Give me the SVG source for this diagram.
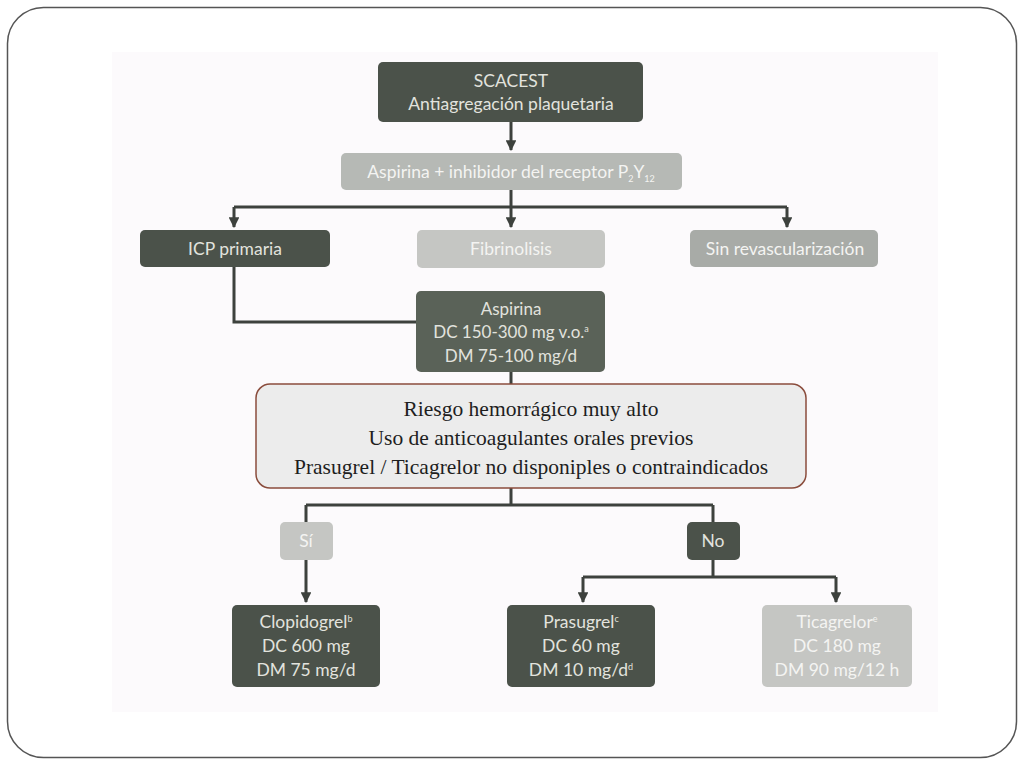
<svg xmlns="http://www.w3.org/2000/svg" width="1024" height="768" viewBox="0 0 1024 768">
<defs>
<marker id="ah" viewBox="0 0 10 10" refX="9" refY="5" markerWidth="3.6" markerHeight="3.6" orient="auto" markerUnits="strokeWidth">
<path d="M0,0 L10,5 L0,10 z" fill="#3d413d"/>
</marker>
<style>
.dk{fill:#4b524a}
.md{fill:#a8aba7}
.lt{fill:#c5c6c3}
.t{font-family:"Lato","Open Sans",sans-serif;font-size:17.5px;text-anchor:middle;fill:#e2e3de}
.tw{font-family:"Lato","Open Sans",sans-serif;font-size:17.5px;text-anchor:middle;fill:#f4f4f2}
.s{font-family:"Liberation Serif",serif;font-size:21.5px;text-anchor:middle;fill:#1e1e1e}
.c{fill:none;stroke:#3d413d;stroke-width:3}
.sup{font-size:9px}
</style>
</defs>
<rect x="0" y="0" width="1024" height="768" fill="#ffffff"/>
<rect x="7.5" y="7.5" width="1009" height="750" rx="36" fill="#ffffff" stroke="#555555" stroke-width="1.5"/>
<rect x="112" y="52" width="826" height="660" fill="#fcfafc"/>
<g id="connectors">
<path class="c" d="M511,122 V150" marker-end="url(#ah)"/>
<path class="c" d="M511,190 V207 M234,207 H787"/>
<path class="c" d="M234,207 V227" marker-end="url(#ah)"/>
<path class="c" d="M511,207 V227" marker-end="url(#ah)"/>
<path class="c" d="M787,207 V227" marker-end="url(#ah)"/>
<path class="c" d="M234,267 V322 H417"/>
<path class="c" d="M511,372 V384"/>
<path class="c" d="M511,488 V505 M306,505 H713 M306,505 V522 M713,505 V522"/>
<path class="c" d="M306,560 V602" marker-end="url(#ah)"/>
<path class="c" d="M713,560 V577 M583,577 H836"/>
<path class="c" d="M583,577 V602" marker-end="url(#ah)"/>
<path class="c" d="M836,577 V602" marker-end="url(#ah)"/>
</g>
<g id="scacest">
<rect class="dk" x="378" y="62" width="265" height="60" rx="5"/>
<text class="t" x="511" y="87">SCACEST</text>
<text class="t" x="511" y="110">Antiagregación plaquetaria</text>
</g>
<g id="aspirina-inhibidor">
<rect fill="#b6b9b5" x="341" y="153" width="341" height="37" rx="5"/>
<text class="tw" x="511" y="178">Aspirina + inhibidor del receptor P<tspan class="sup" dy="4">2</tspan><tspan dy="-4">Y</tspan><tspan class="sup" dy="4">12</tspan></text>
</g>
<g id="icp">
<rect class="dk" x="140" y="230" width="190" height="37" rx="5"/>
<text class="t" x="235" y="255">ICP primaria</text>
</g>
<g id="fibrinolisis">
<rect class="lt" x="417" y="230" width="188" height="38" rx="5"/>
<text class="tw" x="511" y="255">Fibrinolisis</text>
</g>
<g id="sin-revasc">
<rect class="md" x="690" y="230" width="188" height="37" rx="5"/>
<text class="tw" x="785" y="255">Sin revascularización</text>
</g>
<g id="aspirina">
<rect fill="#5a6258" x="416" y="291" width="189" height="81" rx="5"/>
<text class="t" x="511" y="315" style="font-size:17px">Aspirina</text>
<text class="t" x="511" y="338" style="font-size:17px">DC 150-300 mg v.o.<tspan class="sup" dy="-6">a</tspan></text>
<text class="t" x="511" y="362" style="font-size:17px">DM 75-100 mg/d</text>
</g>
<g id="riesgo">
<rect x="256" y="384" width="550" height="104" rx="14" fill="#ececec" stroke="#8a4c3c" stroke-width="1.5"/>
<text class="s" x="531" y="416">Riesgo hemorrágico muy alto</text>
<text class="s" x="531" y="445">Uso de anticoagulantes orales previos</text>
<text class="s" x="531" y="474">Prasugrel / Ticagrelor no disponiples o contraindicados</text>
</g>
<g id="si">
<rect class="lt" x="280" y="522" width="53" height="38" rx="5"/>
<text class="tw" x="306" y="547">Sí</text>
</g>
<g id="no">
<rect class="dk" x="687" y="522" width="53" height="38" rx="5"/>
<text class="t" x="713" y="547">No</text>
</g>
<g id="clopidogrel">
<rect class="dk" x="232" y="605" width="148" height="82" rx="5"/>
<text class="t" x="306" y="628">Clopidogrel<tspan class="sup" dy="-6">b</tspan></text>
<text class="t" x="306" y="652">DC 600 mg</text>
<text class="t" x="306" y="676">DM 75 mg/d</text>
</g>
<g id="prasugrel">
<rect class="dk" x="507" y="605" width="148" height="82" rx="5"/>
<text class="t" x="581" y="628">Prasugrel<tspan class="sup" dy="-6">c</tspan></text>
<text class="t" x="581" y="652">DC 60 mg</text>
<text class="t" x="581" y="676">DM 10 mg/d<tspan class="sup" dy="-6">d</tspan></text>
</g>
<g id="ticagrelor">
<rect class="lt" x="762" y="605" width="150" height="82" rx="5"/>
<text class="tw" x="837" y="628">Ticagrelor<tspan class="sup" dy="-6">e</tspan></text>
<text class="tw" x="837" y="652">DC 180 mg</text>
<text class="tw" x="837" y="676">DM 90 mg/12 h</text>
</g>
</svg>
